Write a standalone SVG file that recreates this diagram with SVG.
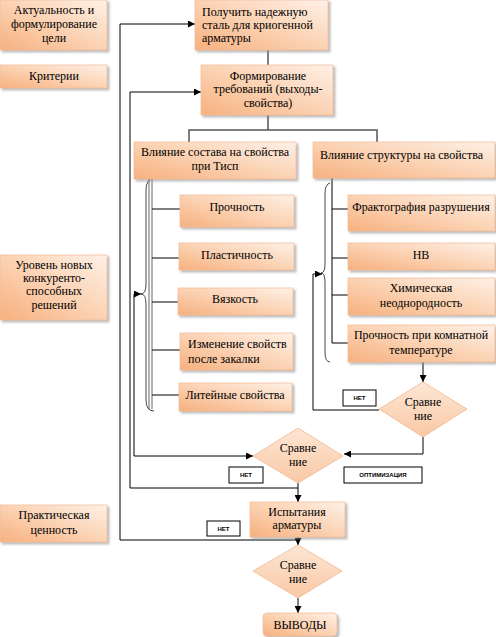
<svg xmlns="http://www.w3.org/2000/svg" width="496" height="637" viewBox="0 0 496 637">
<defs>
<linearGradient id="g" x1="0" y1="1" x2="1" y2="0">
<stop offset="0" stop-color="#f6b07e"/>
<stop offset="0.45" stop-color="#fbcfae"/>
<stop offset="1" stop-color="#fef1e7"/>
</linearGradient>
<linearGradient id="gd" x1="0" y1="0" x2="0" y2="1">
<stop offset="0" stop-color="#fde6d4"/>
<stop offset="1" stop-color="#f9c9a5"/>
</linearGradient>
<filter id="sh" x="-10%" y="-10%" width="125%" height="140%">
<feDropShadow dx="2" dy="2" stdDeviation="1" flood-color="#8a8a8a" flood-opacity="0.6"/>
</filter>
<marker id="ar" viewBox="0 0 8 8" refX="8" refY="4" markerWidth="7" markerHeight="7" markerUnits="userSpaceOnUse" orient="auto">
<path d="M0,0 L8,4 L0,8 z" fill="#000"/>
</marker>
</defs>
<style>
.b{fill:url(#g);stroke:#f3bd97;stroke-width:0.75;filter:url(#sh)}
.d{fill:url(#gd);stroke:#efb48b;stroke-width:0.75}
.t{font-size:12px;fill:#000}
.m{text-anchor:middle}
.s{font-size:6px;font-weight:bold;fill:#000;text-anchor:middle}
.l{fill:#fff;stroke:#000;stroke-width:1}
.c{fill:none;stroke:#000;stroke-width:1}
.ca{fill:none;stroke:#000;stroke-width:1;marker-end:url(#ar)}
.cg{fill:none;stroke:#555;stroke-width:1.5}
.br{fill:none;stroke:#333;stroke-width:0.9}
</style>
<rect width="496" height="637" fill="#fff"/>

<g id="connectors">
<line class="c" x1="268" y1="50" x2="268" y2="65"/>
<polyline class="cg" points="268,115 268,130"/>
<polyline class="cg" points="189,142 189,130 377,130 377,142"/>
<line x1="149" y1="179" x2="149" y2="409" stroke="#666" stroke-width="1"/>
<line x1="152" y1="179" x2="152" y2="409" stroke="#666" stroke-width="1"/>
<line class="c" x1="152" y1="209" x2="180" y2="209"/>
<line class="c" x1="152" y1="258" x2="179" y2="258"/>
<line class="c" x1="152" y1="302" x2="178" y2="302"/>
<line class="c" x1="152" y1="350" x2="180" y2="350"/>
<line class="c" x1="152" y1="395" x2="179" y2="395"/>
<path class="br" d="M154,178 Q146,179 146,190 L146,284 Q146,294 141,294 Q146,294 146,304 L146,400 Q146,411 154,411"/>
<line class="c" x1="332" y1="178" x2="332" y2="343"/>
<line class="c" x1="332" y1="209" x2="348" y2="209"/>
<line class="c" x1="332" y1="258" x2="348" y2="258"/>
<line class="c" x1="332" y1="295" x2="348" y2="295"/>
<line class="c" x1="332" y1="343" x2="348" y2="343"/>
<path class="br" d="M330,183 Q325,184 325,194 L325,264 Q325,273 321,273 Q325,273 325,282 L325,352 Q325,362 330,362"/>
<line x1="423" y1="362" x2="423" y2="382" stroke="#555" stroke-width="1.5" marker-end="url(#ar)"/>
<polyline class="ca" points="379,410 313,410 313,274 322,274"/>
<polyline class="ca" points="423,437 423,454 344,454"/>
<polyline class="ca" points="134,294 141,294"/>
<polyline class="ca" points="134,294 134,456 253,456"/>
<polyline class="ca" points="298,483 298,502"/>
<polyline class="ca" points="298,488 130,488 130,92 201,92"/>
<polyline class="ca" points="298,537 298,545"/>
<polyline class="ca" points="298,540 120,540 120,24 195,24"/>
<polyline class="ca" points="298,598 298,613"/>
</g>

<g font-family="Liberation Serif, Times New Roman, serif">
<g id="n-aktual"><rect class="b" x="0" y="0" width="107" height="50"/>
<text class="t m" x="54" y="14">Актуальность и</text><text class="t m" x="54" y="28">формулирование</text><text class="t m" x="54" y="42">цели</text></g>
<g id="n-krit"><rect class="b" x="0" y="65" width="107" height="23"/>
<text class="t m" x="54" y="80">Критерии</text></g>
<g id="n-uroven"><rect class="b" x="0" y="255" width="107" height="65"/>
<text class="t m" x="54" y="269">Уровень новых</text><text class="t m" x="54" y="282">конкуренто-</text><text class="t m" x="54" y="295">способных</text><text class="t m" x="54" y="309">решений</text></g>
<g id="n-prakt"><rect class="b" x="0" y="505" width="107" height="37"/>
<text class="t m" x="54" y="519">Практическая</text><text class="t m" x="54" y="534">ценность</text></g>

<g id="n-poluchit"><rect class="b" x="195" y="0" width="133" height="50"/>
<text class="t" x="202" y="16">Получить надежную</text><text class="t" x="202" y="29">сталь для криогенной</text><text class="t" x="202" y="42">арматуры</text></g>
<g id="n-form"><rect class="b" x="201" y="65" width="132" height="50"/>
<text class="t m" x="268" y="80">Формирование</text><text class="t m" x="268" y="93">требований (выходы-</text><text class="t m" x="268" y="107">свойства)</text></g>

<g id="n-sostav"><rect class="b" x="134" y="142" width="162" height="37"/>
<text class="t m" x="215" y="156">Влияние состава на свойства</text><text class="t m" x="215" y="170">при Тисп</text></g>
<g id="n-struct"><rect class="b" x="313" y="142" width="182" height="36"/>
<text class="t" x="320" y="159">Влияние структуры на свойства</text></g>

<g id="n-proch"><rect class="b" x="180" y="195" width="114" height="32"/>
<text class="t m" x="237" y="211">Прочность</text></g>
<g id="n-plast"><rect class="b" x="179" y="243" width="115" height="27"/>
<text class="t m" x="237" y="259">Пластичность</text></g>
<g id="n-vyaz"><rect class="b" x="178" y="288" width="115" height="27"/>
<text class="t m" x="235" y="303">Вязкость</text></g>
<g id="n-izm"><rect class="b" x="180" y="333" width="113" height="37"/>
<text class="t" x="188" y="348">Изменение свойств</text><text class="t" x="188" y="363">после закалки</text></g>
<g id="n-lit"><rect class="b" x="179" y="383" width="113" height="28"/>
<text class="t m" x="235" y="399">Литейные свойства</text></g>

<g id="n-frakt"><rect class="b" x="348" y="195" width="147" height="36"/>
<text class="t m" x="421" y="211">Фрактография разрушения</text></g>
<g id="n-hb"><rect class="b" x="348" y="243" width="147" height="27"/>
<text class="t m" x="421" y="259">НВ</text></g>
<g id="n-him"><rect class="b" x="348" y="278" width="147" height="37"/>
<text class="t m" x="421" y="292">Химическая</text><text class="t m" x="421" y="307">неоднородность</text></g>
<g id="n-komn"><rect class="b" x="348" y="325" width="147" height="37"/>
<text class="t m" x="421" y="339">Прочность при комнатной</text><text class="t m" x="421" y="354">температуре</text></g>

<g id="n-sr1"><polygon class="d" points="423,382 467,409 423,437 379,409"/>
<text class="t m" x="423" y="406">Сравне</text><text class="t m" x="423" y="420">ние</text></g>
<g id="n-sr2"><polygon class="d" points="298,428 343,456 298,483 253,456"/>
<text class="t m" x="298" y="452">Сравне</text><text class="t m" x="298" y="466">ние</text></g>
<g id="n-isp"><rect class="b" x="250" y="502" width="95" height="35"/>
<text class="t m" x="297" y="516">Испытания</text><text class="t m" x="297" y="529">арматуры</text></g>
<g id="n-sr3"><polygon class="d" points="298,545 342,571 298,598 253,571"/>
<text class="t m" x="298" y="569">Сравне</text><text class="t m" x="298" y="583">ние</text></g>
<g id="n-vyvody"><rect class="b" x="263" y="613" width="74" height="23" rx="4"/>
<text class="t m" x="300" y="629" font-size="13">ВЫВОДЫ</text></g>
</g>

<g id="labels" font-family="Liberation Sans, Arial, sans-serif">
<rect class="l" x="343" y="390" width="33" height="16"/><text class="s" x="359.5" y="400">НЕТ</text>
<rect class="l" x="229" y="467" width="34" height="16"/><text class="s" x="246" y="477">НЕТ</text>
<rect class="l" x="344" y="467" width="78" height="16"/><text class="s" x="383" y="477">ОПТИМИЗАЦИЯ</text>
<rect class="l" x="207" y="521" width="33" height="15"/><text class="s" x="223.5" y="531">НЕТ</text>
</g>
</svg>
